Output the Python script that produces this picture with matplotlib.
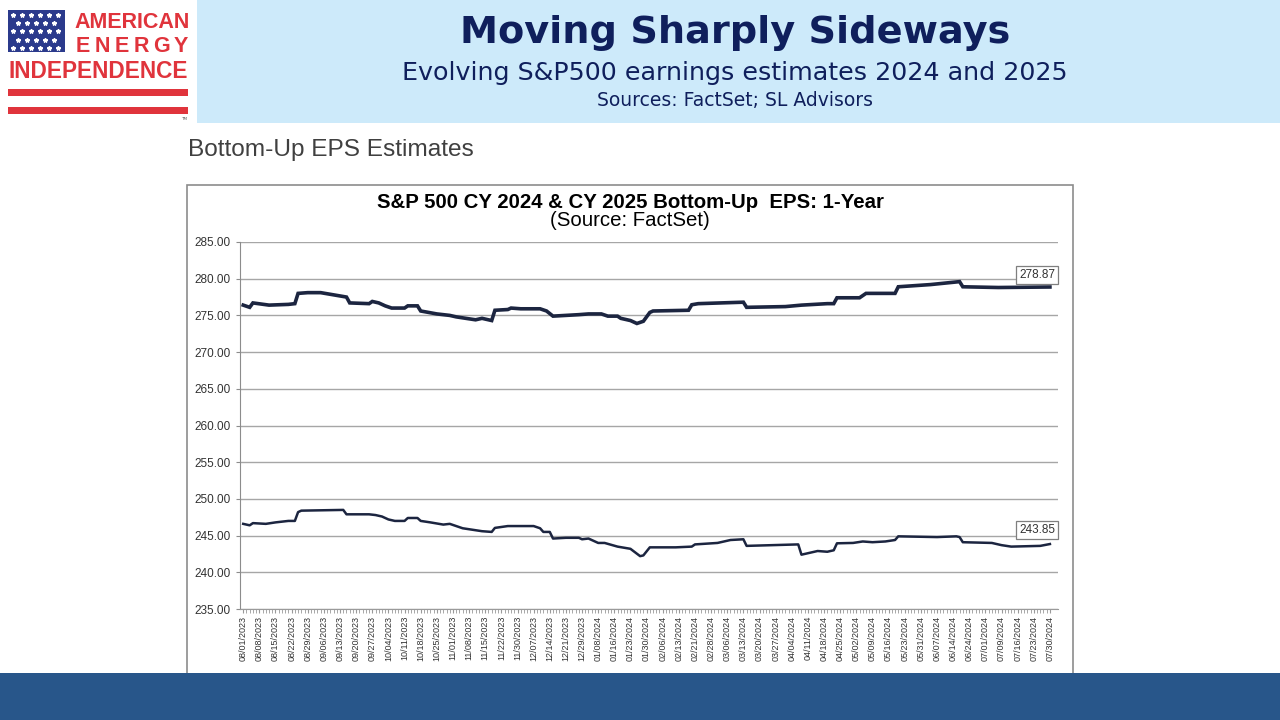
import numpy as np
import matplotlib
matplotlib.use("Agg")
import matplotlib.pyplot as plt
from matplotlib import font_manager
from matplotlib.patches import Rectangle

# session = trading day counted from 08/01/2023 (labels every 5 sessions)
tick_labels = [
    "08/01/2023", "08/08/2023", "08/15/2023", "08/22/2023", "08/29/2023",
    "09/06/2023", "09/13/2023", "09/20/2023", "09/27/2023", "10/04/2023",
    "10/11/2023", "10/18/2023", "10/25/2023", "11/01/2023", "11/08/2023",
    "11/15/2023", "11/22/2023", "11/30/2023", "12/07/2023", "12/14/2023",
    "12/21/2023", "12/29/2023", "01/08/2024", "01/16/2024", "01/23/2024",
    "01/30/2024", "02/06/2024", "02/13/2024", "02/21/2024", "02/28/2024",
    "03/06/2024", "03/13/2024", "03/20/2024", "03/27/2024", "04/04/2024",
    "04/11/2024", "04/18/2024", "04/25/2024", "05/02/2024", "05/09/2024",
    "05/16/2024", "05/23/2024", "05/31/2024", "06/07/2024", "06/14/2024",
    "06/24/2024", "07/01/2024", "07/09/2024", "07/16/2024", "07/23/2024",
    "07/30/2024",
]

cy2024_session = [0, 2, 3, 8, 14, 16, 17, 20, 24, 28, 32, 33, 39, 40, 42, 44, 46, 50,
                  51, 54, 55, 60, 64, 66, 69, 72, 74, 77, 78, 82, 83, 86, 92, 94, 96,
                  100, 104, 107, 111, 113, 116, 117, 120, 122, 124, 126, 127, 138, 139,
                  141, 155, 156, 168, 173, 181, 183, 184, 191, 193, 202, 203, 213, 222,
                  223, 234, 250]
cy2024_eps = [276.4, 276.1, 276.7, 276.4, 276.5, 276.6, 278.0, 278.1, 278.1, 277.8,
              277.5, 276.7, 276.6, 276.9, 276.7, 276.3, 276.0, 276.0, 276.3, 276.3,
              275.6, 275.2, 275.0, 274.8, 274.6, 274.4, 274.6, 274.3, 275.7, 275.8,
              276.0, 275.9, 275.9, 275.6, 274.9, 275.0, 275.1, 275.2, 275.2, 274.9,
              274.9, 274.6, 274.3, 273.9, 274.2, 275.4, 275.6, 275.7, 276.45, 276.6,
              276.8, 276.1, 276.2, 276.4, 276.6, 276.6, 277.4, 277.4, 278.0, 278.0,
              278.9, 279.2, 279.6, 278.9, 278.8, 278.87]

cy2025_session = [0, 2, 3, 7, 10, 14, 16, 17, 18, 31, 32, 39, 41, 43, 45, 47, 50, 51,
                  54, 55, 58, 62, 64, 66, 68, 71, 74, 77, 78, 82, 90, 92, 93, 95, 96,
                  100, 104, 105, 107, 110, 112, 116, 120, 123, 124, 126, 134, 139, 140,
                  147, 151, 155, 156, 172, 173, 178, 181, 183, 184, 189, 192, 195, 199,
                  202, 203, 215, 221, 222, 223, 232, 235, 238, 247, 250]
cy2025_eps = [246.6, 246.4, 246.7, 246.6, 246.8, 247.0, 247.0, 248.2, 248.4, 248.5,
              247.9, 247.9, 247.8, 247.6, 247.2, 247.0, 247.0, 247.4, 247.4, 247.0,
              246.8, 246.5, 246.6, 246.3, 246.0, 245.8, 245.6, 245.5, 246.05, 246.3,
              246.3, 246.0, 245.5, 245.5, 244.6, 244.7, 244.7, 244.5, 244.6, 244.0,
              244.0, 243.5, 243.2, 242.2, 242.3, 243.4, 243.4, 243.5, 243.8, 244.0,
              244.4, 244.5, 243.6, 243.8, 242.4, 242.9, 242.8, 243.0, 243.95, 244.0,
              244.2, 244.1, 244.2, 244.4, 244.9, 244.8, 244.9, 244.8, 244.1, 244.0,
              243.7, 243.5, 243.6, 243.85]

y_ticks = [235, 240, 245, 250, 255, 260, 265, 270, 275, 280, 285]

W, H = 1280, 720
installed = {f.name for f in font_manager.fontManager.ttflist}
arial = "Liberation Sans" if "Liberation Sans" in installed else "DejaVu Sans"
narrow = "Liberation Sans Narrow" if "Liberation Sans Narrow" in installed else arial
narrow_size = 7 if narrow == "Liberation Sans Narrow" else 6.5

NAVY = "#0f1f5c"
RED = "#e0343c"
LINE = "#1c2540"

fig = plt.figure(figsize=(12.8, 7.2), dpi=100)
fig.patch.set_facecolor("white")


def px_rect(x0, y0, x1, y1, **kw):
    # rectangle given in screen pixels (y down)
    r = Rectangle((x0 / W, 1 - y1 / H), (x1 - x0) / W, (y1 - y0) / H,
                  transform=fig.transFigure, **kw)
    fig.add_artist(r)
    return r


def px_text(x, y, s, **kw):
    return fig.text(x / W, 1 - y / H, s, **kw)


# header band
px_rect(197, 0, W, 123, facecolor="#cdeafa", edgecolor="none", zorder=0)
px_text(735, 33, "Moving Sharply Sideways", fontsize=27.5, fontweight="bold",
        color=NAVY, ha="center", va="center", family="DejaVu Sans")
px_text(735, 73, "Evolving S&P500 earnings estimates 2024 and 2025", fontsize=18.3,
        color=NAVY, ha="center", va="center", family="DejaVu Sans")
px_text(735, 100, "Sources: FactSet; SL Advisors", fontsize=13.5,
        color=NAVY, ha="center", va="center", family="DejaVu Sans")

# logo
px_rect(8, 10, 65, 52, facecolor="#2b3a8c", edgecolor="none", zorder=1)
for row in range(5):
    for col in range(6 if row % 2 == 0 else 5):
        sx = 13 + col * 9 + (4.5 if row % 2 else 0)
        sy = 15 + row * 8.2
        fig.add_artist(plt.Line2D([sx / W], [1 - sy / H], marker="*", color="white",
                                  markersize=3.2, transform=fig.transFigure, zorder=2))
px_text(132, 22, "AMERICAN", fontsize=15.5, fontweight="bold", color=RED,
        ha="center", va="center", family=arial)
for i, ch in enumerate("ENERGY"):
    px_text(83 + i * 19.6, 46, ch, fontsize=15.5, fontweight="bold", color=RED,
            ha="center", va="center", family=arial)
px_text(98, 71, "INDEPENDENCE", fontsize=16.3, fontweight="bold", color=RED,
        ha="center", va="center", family=arial)
px_rect(8, 89, 188, 96, facecolor=RED, edgecolor="none")
px_rect(8, 107, 188, 114, facecolor=RED, edgecolor="none")
px_text(184, 119, "TM", fontsize=3, color="#555555", ha="center", va="center")

# section heading
px_text(188, 150, "Bottom-Up EPS Estimates", fontsize=17.6, color="#404040",
        ha="left", va="center", family=arial)

# chart frame
px_rect(187, 185, 1073, 700, facecolor="none", edgecolor="#8c8c8c", linewidth=1.2,
        zorder=0.5)
px_text(630, 202, "S&P 500 CY 2024 & CY 2025 Bottom-Up  EPS: 1-Year", fontsize=14.7,
        fontweight="bold", color="black", ha="center", va="center", family=arial)
px_text(630, 221, "(Source: FactSet)", fontsize=14.7, color="black",
        ha="center", va="center", family=arial)

# plot area
ax = fig.add_axes([240 / W, 1 - 609 / H, 818 / W, 367 / H])
ax.set_facecolor("none")
ax.plot(cy2024_session, cy2024_eps, color=LINE, linewidth=2.6, solid_joinstyle="miter")
ax.plot(cy2025_session, cy2025_eps, color=LINE, linewidth=1.8)

ax.set_xlim(-1, 252.5)
ax.set_ylim(235, 285)
ax.set_yticks(y_ticks)
ax.set_yticklabels([f"{v:.2f}" for v in y_ticks], fontsize=8.5, color="#333333",
                   family=arial)
ax.yaxis.grid(True, color="#a6a6a6", linewidth=1)
ax.set_axisbelow(True)
ax.tick_params(axis="y", length=3, color="#8c8c8c", pad=4)

ax.set_xticks(np.arange(len(tick_labels)) * 5)
ax.set_xticklabels(tick_labels, rotation=90, fontsize=narrow_size, color="#333333",
                   family=narrow)
ax.set_xticks(np.arange(0, 251), minor=True)
ax.tick_params(axis="x", which="both", length=3, color="#9a9a9a", pad=2)

for side in ["top", "right"]:
    ax.spines[side].set_visible(False)
ax.spines["left"].set_color("#8c8c8c")
ax.spines["bottom"].set_color("#9a9a9a")

box = dict(boxstyle="square,pad=0.25", facecolor="white", edgecolor="#7f7f7f",
           linewidth=0.9)
ax.annotate(f"{cy2024_eps[-1]:.2f}", (cy2024_session[-1], cy2024_eps[-1]),
            xytext=(-9, 8.5), textcoords="offset points", ha="center", va="center",
            fontsize=8.5, color="#333333", family=arial, bbox=box)
ax.annotate(f"{cy2025_eps[-1]:.2f}", (cy2025_session[-1], cy2025_eps[-1]),
            xytext=(-9, 10), textcoords="offset points", ha="center", va="center",
            fontsize=8.5, color="#333333", family=arial, bbox=box)

# footer band
px_rect(0, 673, W, H, facecolor="#28568a", edgecolor="none", zorder=5)

fig.savefig("out.png", dpi=100)
